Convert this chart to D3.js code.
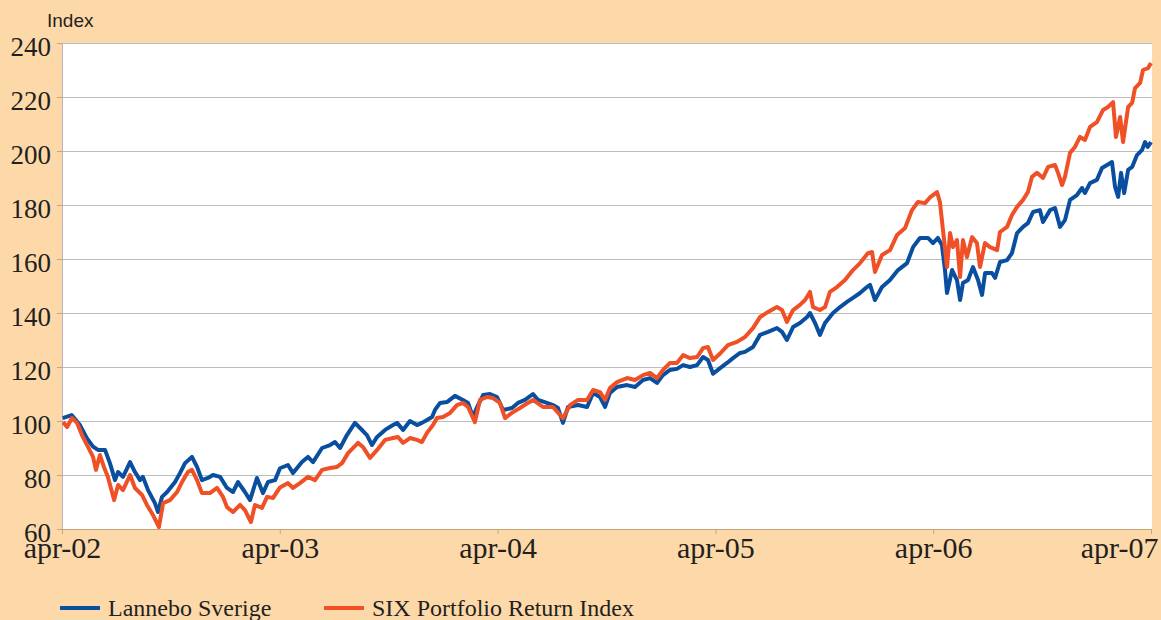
<!DOCTYPE html>
<html>
<head>
<meta charset="utf-8">
<script src="https://cdn.jsdelivr.net/npm/d3@7"></script>
<style>
html,body{margin:0;padding:0;background:#fdd9a9;}
svg{display:block;}
</style>
</head>
<body>
<svg id="chart" width="1161" height="620"></svg>
<script>
// Months since April 2002
const xTickMonths = [0, 12, 24, 36, 48, 60];
const xTickLabels = ["apr-02", "apr-03", "apr-04", "apr-05", "apr-06", "apr-07"];
const yTicks = [60, 80, 100, 120, 140, 160, 180, 200, 220, 240];
const seriesNames = ["Lannebo Sverige", "SIX Portfolio Return Index"];

const lanneboMonths = [0.04,0.53,0.99,1.36,1.71,1.98,2.37,2.64,2.92,3.09,3.36,3.75,4.02,4.30,4.46,4.74,5.12,5.29,5.51,5.79,6.23,6.50,6.78,7.16,7.44,7.71,8.04,8.32,8.71,9.09,9.42,9.70,10.08,10.36,10.74,11.07,11.35,11.74,12.01,12.45,12.73,13.22,13.55,13.83,14.33,14.77,15.04,15.32,15.70,16.14,16.42,16.80,17.08,17.36,17.80,18.24,18.46,18.79,19.17,19.56,19.83,20.11,20.39,20.55,20.83,21.21,21.65,22.09,22.37,22.64,22.92,23.20,23.58,23.97,24.30,24.79,25.12,25.51,25.95,26.23,26.72,27.05,27.33,27.60,27.88,28.43,28.93,29.26,29.64,29.92,30.19,30.58,31.13,31.57,32.01,32.40,32.78,33.11,33.50,33.88,34.22,34.60,34.99,35.32,35.59,35.87,36.26,36.64,36.97,37.36,37.63,38.07,38.46,38.90,39.39,39.67,39.94,40.28,40.66,41.05,41.21,41.49,41.76,42.04,42.48,42.87,43.25,43.58,43.97,44.35,44.52,44.79,45.18,45.62,46.06,46.56,46.89,47.27,47.71,47.99,48.26,48.48,48.65,48.76,49.04,49.31,49.48,49.64,49.92,50.19,50.47,50.69,50.86,51.24,51.41,51.68,52.07,52.34,52.62,52.95,53.22,53.50,53.88,54.05,54.44,54.71,54.99,55.26,55.54,55.92,56.20,56.36,56.64,57.02,57.30,57.58,57.85,58.02,58.19,58.35,58.52,58.74,58.96,59.23,59.51,59.67,59.82,60.0];
const lanneboValues = [101.1,102.2,98.5,93.7,90.5,89.3,89.3,84.4,78.1,81.1,79.3,84.8,81.1,78.1,79.3,74.4,69.6,66.3,71.9,73.7,77.4,80.7,84.4,86.7,83.0,78.1,78.9,80.0,79.3,75.2,73.7,77.4,73.7,70.7,78.9,73.3,77.4,78.1,82.5,83.7,80.7,84.8,86.7,84.8,90.0,91.1,92.2,90.0,94.8,99.3,97.4,94.8,91.1,94.1,96.7,98.5,99.3,96.7,100.0,98.5,99.3,100.4,101.5,104.1,106.7,107.0,109.3,107.8,106.7,101.5,105.9,109.6,110.0,108.9,104.1,104.8,106.7,107.8,110.0,107.8,106.7,105.9,104.8,99.3,105.2,105.9,105.2,110.4,108.9,105.2,110.4,112.6,113.3,112.6,115.2,115.9,114.1,117.0,118.9,119.3,120.7,120.0,120.7,123.7,122.6,117.5,119.6,121.5,123.3,125.2,125.6,127.4,131.9,133.0,134.4,133.0,130.0,134.8,136.3,138.5,140.0,136.3,131.9,136.3,140.0,142.2,144.1,145.6,147.4,149.6,150.4,144.8,149.6,152.2,155.9,158.5,164.4,167.8,167.8,165.9,167.8,165.2,155.9,147.4,155.9,152.2,144.8,151.1,152.2,157.0,152.2,146.7,154.8,154.8,153.0,158.9,159.6,162.2,169.6,171.9,173.3,177.4,178.1,173.7,178.1,178.9,171.9,174.4,181.9,183.7,186.3,184.4,188.1,189.3,193.7,194.8,195.9,186.7,183.0,191.9,184.4,193.0,194.1,198.5,200.4,203.3,201.5,203.3];

const sixMonths = [0.06,0.28,0.55,0.83,1.10,1.43,1.71,1.87,2.09,2.31,2.53,2.87,3.09,3.36,3.75,4.02,4.41,4.68,5.01,5.34,5.57,5.95,6.34,6.61,6.94,7.16,7.44,7.71,8.15,8.54,8.87,9.09,9.42,9.81,10.08,10.41,10.63,11.02,11.30,11.63,12.01,12.45,12.73,13.11,13.55,13.94,14.33,14.77,15.15,15.43,15.76,16.31,16.58,16.97,17.36,17.80,18.24,18.51,18.79,19.17,19.56,19.83,20.11,20.44,20.66,20.99,21.38,21.76,22.09,22.37,22.75,23.03,23.42,23.75,24.13,24.41,24.79,25.23,25.67,25.95,26.50,27.05,27.60,27.99,28.43,28.93,29.26,29.64,29.92,30.19,30.58,31.13,31.57,32.01,32.40,32.78,33.11,33.50,33.88,34.22,34.60,34.99,35.32,35.59,35.87,36.26,36.69,37.19,37.63,38.07,38.46,38.90,39.39,39.67,39.94,40.28,40.66,40.94,41.21,41.38,41.76,42.04,42.31,42.70,43.14,43.58,43.97,44.41,44.63,44.79,45.18,45.62,46.01,46.45,46.83,47.16,47.55,47.82,48.21,48.37,48.54,48.76,48.93,49.09,49.31,49.48,49.64,49.86,50.14,50.41,50.58,50.85,51.13,51.52,51.68,52.07,52.34,52.62,52.95,53.22,53.44,53.72,54.05,54.33,54.71,54.88,55.10,55.26,55.54,55.81,56.09,56.36,56.64,57.02,57.36,57.63,57.91,58.07,58.30,58.46,58.74,58.96,59.12,59.40,59.56,59.84,60.0];
const sixValues = [99.6,97.8,101.1,99.3,94.8,90.4,86.7,81.9,87.4,83.0,79.3,70.7,76.3,74.4,80.0,75.2,72.6,68.9,65.2,60.7,69.6,70.7,73.7,77.4,81.1,81.9,78.1,73.3,73.3,75.2,71.9,68.1,66.3,68.9,67.0,62.6,68.9,67.8,71.9,71.5,75.4,77.0,75.2,77.0,79.3,78.1,81.9,82.6,83.0,84.4,88.1,91.9,90.4,86.3,89.3,93.0,93.7,94.1,91.9,93.7,93.0,92.2,95.6,98.5,101.1,101.5,103.0,105.9,106.7,105.2,99.6,107.8,108.9,108.5,106.7,101.1,103.0,104.8,106.7,107.8,105.2,105.2,101.0,105.9,107.8,107.8,111.5,110.7,107.8,112.2,114.4,115.9,115.2,117.0,117.8,115.9,118.9,121.5,121.5,124.4,123.3,123.7,127.0,127.4,122.6,125.0,128.1,129.3,131.1,134.4,138.5,140.4,142.2,141.1,136.7,141.1,143.0,144.8,147.8,142.2,141.1,142.2,147.8,149.6,152.2,155.9,158.5,162.2,162.6,155.2,161.5,163.3,168.9,171.5,178.1,181.1,180.7,182.8,184.8,181.1,170.7,157.0,169.6,164.4,167.0,153.3,167.0,160.7,168.1,165.9,157.0,165.9,164.4,163.3,170.0,171.9,176.3,179.3,181.9,184.8,190.4,191.9,190.0,194.1,194.8,191.9,187.4,190.4,199.3,201.5,205.2,204.1,208.9,210.7,215.2,216.3,218.1,205.2,212.6,203.3,216.3,217.8,223.3,225.2,230.0,230.7,232.6];

const colors = ["#0a4f9f", "#ef5025"];
const serif = "'Liberation Serif', 'Times New Roman', Times, serif";

const svg = d3.select("#chart");
const W = 1161, H = 620;
const m = {left: 62, right: 1151, top: 43, bottom: 529};

svg.append("rect").attr("width", W).attr("height", H).attr("fill", "#fdd9a9");
svg.append("rect").attr("x", m.left).attr("y", m.top)
  .attr("width", m.right - m.left + 1).attr("height", m.bottom - m.top)
  .attr("fill", "#ffffff");

const x = d3.scaleLinear().domain([0, 60]).range([m.left, m.right]);
const y = d3.scaleLinear().domain([60, 240]).range([m.bottom, m.top]);

// gridlines
svg.append("g").selectAll("line").data(yTicks.filter(d => d > 60)).join("line")
  .attr("x1", m.left).attr("x2", m.right + 1)
  .attr("y1", d => y(d) + 0.5).attr("y2", d => y(d) + 0.5)
  .attr("stroke", "#bdbdbd").attr("stroke-width", 1);

// y axis
const yAxis = svg.append("g").attr("transform", `translate(${m.left},0)`)
  .attr("font-family", serif)
  .call(d3.axisLeft(y).tickValues(yTicks).tickSize(5).tickFormat(d3.format("d")));
yAxis.attr("font-family", serif);
yAxis.select(".domain").attr("stroke", "#b9b2b8");
yAxis.selectAll(".tick line").attr("stroke", "#c9a679");
yAxis.selectAll(".tick text")
  .style("font-family", serif)
  .attr("font-size", 27).attr("fill", "#231f20")
  .attr("x", -11).attr("dy", null).attr("y", 12);

// x axis
const xAxis = svg.append("g").attr("transform", `translate(0,${m.bottom})`)
  .call(d3.axisBottom(x).tickValues(xTickMonths).tickSize(5)
    .tickFormat((d, i) => xTickLabels[i]));
xAxis.attr("font-family", serif);
xAxis.select(".domain").attr("stroke", "#c9a679");
xAxis.selectAll(".tick line").attr("stroke", "#c9a679");
xAxis.selectAll(".tick text")
  .style("font-family", serif)
  .attr("font-size", 30).attr("fill", "#231f20")
  .attr("y", 29).attr("dy", null)
  .attr("text-anchor", (d, i) => i === xTickLabels.length - 1 ? "end" : "middle")
  .attr("x", (d, i) => i === xTickLabels.length - 1 ? 7 : 0);

// clip
svg.append("clipPath").attr("id", "clip").append("rect")
  .attr("x", m.left).attr("y", m.top - 5).attr("width", m.right - m.left + 2).attr("height", m.bottom - m.top + 5);

const line = d3.line().x(d => x(d[0])).y(d => y(d[1]));
const series = [
  d3.zip(lanneboMonths, lanneboValues),
  d3.zip(sixMonths, sixValues)
];
svg.append("g").attr("clip-path", "url(#clip)").selectAll("path").data(series).join("path")
  .attr("d", line).attr("fill", "none")
  .attr("stroke", (d, i) => colors[i]).attr("stroke-width", 4)
  .attr("stroke-linejoin", "round");

// axis title
svg.append("text").attr("x", 47).attr("y", 27)
  .attr("font-family", "'Liberation Sans', Arial, sans-serif")
  .attr("font-size", 19).attr("fill", "#231f20").text("Index");

// legend
const legendX = [60, 324];
const lg = svg.append("g").selectAll("g").data(seriesNames).join("g")
  .attr("transform", (d, i) => `translate(${legendX[i]},608)`);
lg.append("line").attr("x1", 0).attr("x2", 40).attr("y1", 0).attr("y2", 0)
  .attr("stroke", (d, i) => colors[i]).attr("stroke-width", 4);
lg.append("text").attr("x", 48).attr("y", 8)
  .style("font-family", serif)
  .attr("font-size", 24).attr("fill", "#231f20").text(d => d);
</script>
</body>
</html>
